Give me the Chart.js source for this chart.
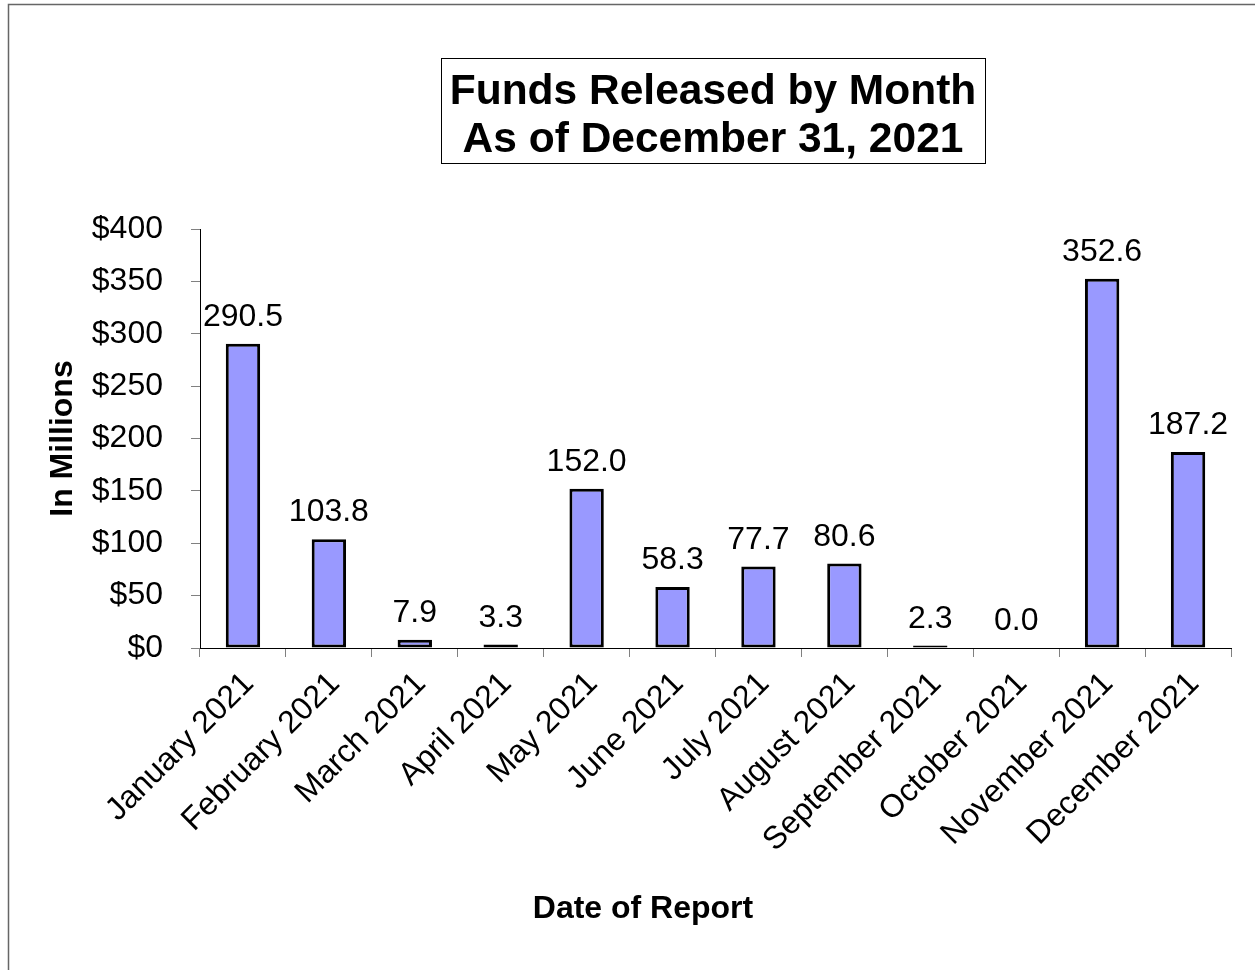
<!DOCTYPE html>
<html>
<head>
<meta charset="utf-8">
<title>Funds Released by Month</title>
<script src="https://cdn.jsdelivr.net/npm/chart.js@4"></script>
<style>
    html, body { margin: 0; padding: 0; background: #fff; overflow: hidden; }
    #wrap { position: relative; width: 1255px; height: 970px; }
</style>
</head>
<body>
<div id="wrap"><canvas id="myChart" width="1255" height="970"></canvas></div>
<script>
// chart data
const months = ['January 2021', 'February 2021', 'March 2021', 'April 2021', 'May 2021', 'June 2021',
    'July 2021', 'August 2021', 'September 2021', 'October 2021', 'November 2021', 'December 2021'];
const funds = [290.5, 103.8, 7.9, 3.3, 152.0, 58.3, 77.7, 80.6, 2.3, 0.0, 352.6, 187.2];
const yTicks = [0, 50, 100, 150, 200, 250, 300, 350, 400];
const titleLines = ['Funds Released by Month', 'As of December 31, 2021'];
const xTitle = 'Date of Report';
const yTitle = 'In Millions';

const FONT = '"Liberation Sans", Arial, sans-serif';

// outer frame + boxed title + x axis title
const frame = {
    id: 'frame',
    beforeDraw(chart) {
        const ctx = chart.ctx;
        ctx.save();
        ctx.fillStyle = '#fff';
        ctx.fillRect(0, 0, chart.width, chart.height);
        ctx.strokeStyle = '#666';
        ctx.lineWidth = 1.5;
        ctx.beginPath();
        ctx.moveTo(8.5, chart.height);
        ctx.lineTo(8.5, 4.5);
        ctx.lineTo(chart.width, 4.5);
        ctx.stroke();
        ctx.restore();
    },
    afterDraw(chart) {
        const ctx = chart.ctx;
        ctx.save();
        ctx.strokeStyle = '#000';
        ctx.lineWidth = 1;
        ctx.strokeRect(441.5, 58.5, 544, 105);
        ctx.fillStyle = '#000';
        ctx.textAlign = 'center';
        ctx.textBaseline = 'alphabetic';
        ctx.font = 'bold 42.5px ' + FONT;
        ctx.fillText(titleLines[0], 713, 104);
        ctx.fillText(titleLines[1], 713, 152);
        ctx.font = 'bold 32px ' + FONT;
        ctx.fillText(xTitle, 643, 918);
        ctx.restore();
    }
};

// value labels above the bars
const barLabels = {
    id: 'barLabels',
    afterDatasetsDraw(chart) {
        const ctx = chart.ctx;
        const meta = chart.getDatasetMeta(0);
        ctx.save();
        ctx.font = '32px ' + FONT;
        ctx.fillStyle = '#000';
        ctx.textAlign = 'center';
        ctx.textBaseline = 'alphabetic';
        meta.data.forEach((bar, i) => {
            ctx.fillText(funds[i].toFixed(1), bar.x, bar.y - 18);
        });
        ctx.restore();
    }
};

let ctx = document.getElementById('myChart').getContext('2d');
let myChart = new Chart(ctx, {
    type: 'bar',
    data: {
        labels: months,
        datasets: [{
            label: 'Funds Released',
            data: funds,
            backgroundColor: '#9999FF',
            borderColor: '#000',
            borderWidth: 3,
            borderSkipped: false,
            categoryPercentage: 1,
            barPercentage: 0.4
        }]
    },
    options: {
        responsive: false,
        animation: false,
        layout: { padding: { left: 0, top: 229, right: 24, bottom: 0 } },
        plugins: {
            legend: { display: false },
            tooltip: { enabled: false }
        },
        scales: {
            x: {
                grid: { drawOnChartArea: false, tickLength: 9, tickColor: '#808080', offset: true },
                border: { color: '#000', width: 1 },
                ticks: {
                    color: '#000',
                    font: { family: FONT, size: 32 },
                    minRotation: 45,
                    maxRotation: 45,
                    autoSkip: false,
                    padding: 8,
                    labelOffset: 6
                },
                afterFit: (scale) => { scale.height = 970 - 648; }
            },
            y: {
                min: 0,
                max: 400,
                afterBuildTicks: (scale) => { scale.ticks = yTicks.map(v => ({ value: v })); },
                grid: { drawOnChartArea: false, tickLength: 9, tickColor: '#808080' },
                border: { color: '#000', width: 1 },
                ticks: {
                    color: '#000',
                    font: { family: FONT, size: 32 },
                    padding: 28,
                    callback: (v) => '$' + v
                },
                title: {
                    display: true,
                    text: yTitle,
                    color: '#000',
                    font: { family: FONT, size: 32, weight: 'bold' },
                    padding: { top: 44, bottom: 0 }
                },
                afterFit: (scale) => { scale.width = 200; }
            }
        }
    },
    plugins: [frame, barLabels]
});
</script>
</body>
</html>
